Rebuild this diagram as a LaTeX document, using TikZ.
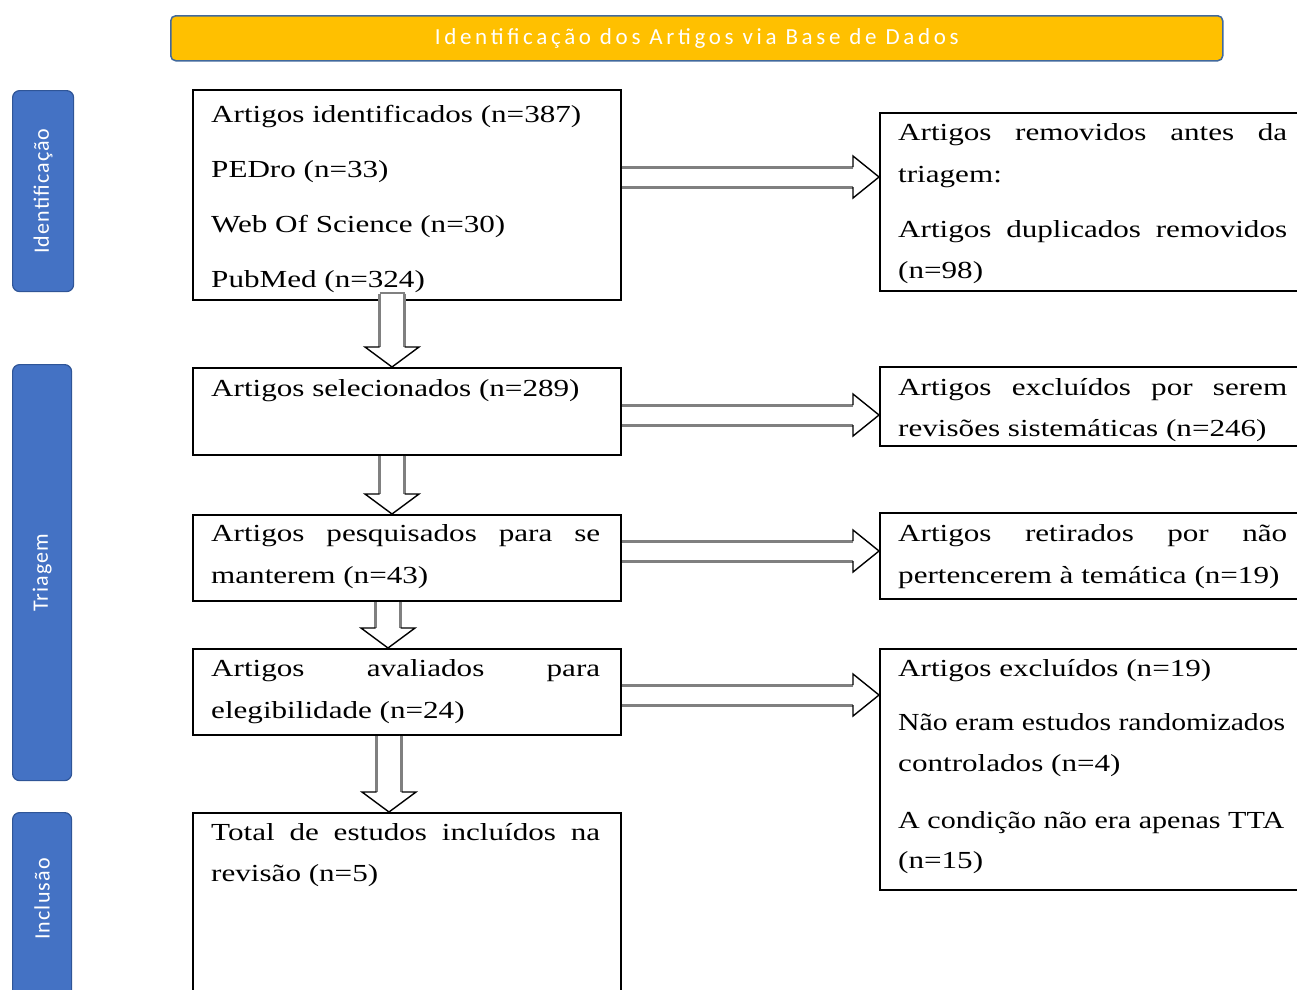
\documentclass[tikz,border=0pt]{standalone}
\usepackage{fontspec}
\usepackage{graphicx}
\setmainfont{Liberation Serif}
\newfontfamily\boxfont[FakeStretch=1.27]{Liberation Serif}
\newfontfamily\lblfont[LetterSpace=5]{Carlito}
\newfontfamily\banfont[LetterSpace=16]{Carlito}
\usetikzlibrary{calc}
\definecolor{phaseblue}{HTML}{4472C4}
\definecolor{phaseborder}{HTML}{2F5597}
\definecolor{banfill}{HTML}{FFC000}
\definecolor{banborder}{HTML}{41699C}
\newcommand\J[1]{\makebox[389pt][s]{#1}}
\newcommand\T[2]{\scalebox{#1}[1]{#2}}
\newcommand\harrow[3]{%
  \coordinate (hs) at (#1.east |- #3);
  \coordinate (he) at (#2.west |- #3);
  \draw[shaft, double distance=17pt] (hs) -- ($(he)+(-26,0)$);
  \draw[head] ($(he)+(-26,-10)$) -- ($(he)+(-26,-21)$) -- (he) -- ($(he)+(-26,21)$) -- ($(he)+(-26,10)$);
}
\newcommand\varrow[3]{%
  \coordinate (vs) at (#3 |- #1.south);
  \coordinate (ve) at (#3 |- #2.north);
  \draw[shaft, double distance=22pt] (vs) -- ($(ve)+(0,-20)$);
  \draw[head] ($(ve)+(-12.5,-20)$) -- ($(ve)+(-27,-20)$) -- (ve) -- ($(ve)+(27,-20)$) -- ($(ve)+(12.5,-20)$);
}
\begin{document}
\begin{tikzpicture}[x=1pt,y=-1pt,
  box/.style={draw=black, line width=1.6pt, fill=white, anchor=north west, inner sep=0pt, rectangle},
  phase/.style={draw=phaseborder, line width=1.2pt, fill=phaseblue, rounded corners=7pt, anchor=north west, inner sep=0pt, rectangle},
  phlabel/.style={rotate=90, text=white, font=\lblfont\fontsize{22}{26}\selectfont, inner sep=0pt},
  banner/.style={draw=banborder, line width=1.5pt, fill=banfill, rounded corners=5pt, anchor=north west, inner sep=0pt, text=white, font=\banfont\fontsize{23}{27}\selectfont},
  txt/.style={anchor=base west, inner sep=0pt, font=\boxfont\fontsize{24.5}{29}\selectfont},
  shaft/.style={draw=black!50, line width=3pt, double=white},
  head/.style={draw=black, line width=1.4pt, fill=white, line join=miter}]
\clip (0,0) rectangle (1297,989);
\useasboundingbox (0,0) rectangle (1297,989);

% banner
\node[banner, minimum width=1052, minimum height=45] (ban) at (170,15) {Identificação dos Artigos via Base de Dados};

% phase bars
\node[phase, minimum width=61, minimum height=201] (ph1) at (12,90) {};
\node[phase, minimum width=59, minimum height=416] (ph2) at (12,364) {};
\node[phase, minimum width=59, minimum height=195] (ph3) at (12,812) {};
\node[phlabel] (l1) at (ph1.center) {Identificação};
\node[phlabel] (l2) at (ph2.center) {Triagem};
\node[phlabel] (l3) at ($(ph3.north)+(0,87)$) {Inclusão};

% left boxes
\node[box, minimum width=428, minimum height=210] (b1) at (192,89) {};
\node[box, minimum width=428, minimum height=87] (b2) at (192,367) {};
\node[box, minimum width=428, minimum height=86] (b3) at (192,514) {};
\node[box, minimum width=428, minimum height=86] (b4) at (192,648) {};
\node[box, minimum width=428, minimum height=200] (b5) at (192,812) {};

% right boxes
\node[box, minimum width=430, minimum height=178] (r1) at (879,112) {};
\node[box, minimum width=430, minimum height=79] (r2) at (879,366) {};
\node[box, minimum width=430, minimum height=86] (r3) at (879,512) {};
\node[box, minimum width=430, minimum height=241] (r4) at (879,648) {};

% arrow coordinates
\coordinate (h1) at (0,177);
\coordinate (h2) at (0,415);
\coordinate (h3) at (0,551);
\coordinate (h4) at (0,695);
\coordinate (v1) at (392,0);
\coordinate (v2) at (392,0);
\coordinate (v3) at (388,0);
\coordinate (v4) at (389,0);

\harrow{b1}{r1}{h1}
\harrow{b2}{r2}{h2}
\harrow{b3}{r3}{h3}
\harrow{b4}{r4}{h4}

\varrow{b1}{b2}{v1}
\draw[draw=black!50, line width=2.5pt] ($(v1 |- b1.south)+(-12.5,-7)$) -- ($(v1 |- b1.south)+(12.5,-7)$);
\draw[shaft, double distance=22pt] ($(v1 |- b1.south)+(0,-7)$) -- (v1 |- b1.south);
\varrow{b2}{b3}{v2}
\varrow{b3}{b4}{v3}
\varrow{b4}{b5}{v4}

% texts left
\node[txt] (t11) at (211,122) {Artigos identificados (n=387)};
\node[txt] (t12) at (211,177) {PEDro (n=33)};
\node[txt] (t13) at (211,232) {Web Of Science (n=30)};
\node[txt] (t14) at (211,287) {PubMed (n=324)};
\node[txt] (t21) at (211,396) {Artigos selecionados (n=289)};
\node[txt] (t31) at (211,541) {\J{Artigos pesquisados para se}};
\node[txt] (t32) at (211,583) {manterem (n=43)};
\node[txt] (t41) at (211,676) {\J{Artigos avaliados para}};
\node[txt] (t42) at (211,718) {elegibilidade (n=24)};
\node[txt] (t51) at (211,840) {\J{Total de estudos incluídos na}};
\node[txt] (t52) at (211,881) {revisão (n=5)};

% texts right
\node[txt] (s11) at (898,140) {\J{Artigos removidos antes da}};
\node[txt] (s12) at (898,182) {triagem:};
\node[txt] (s13) at (898,237) {\J{Artigos duplicados removidos}};
\node[txt] (s14) at (898,278) {(n=98)};
\node[txt] (s21) at (898,395) {\J{Artigos excluídos por serem}};
\node[txt] (s22) at (898,436) {revisões sistemáticas (n=246)};
\node[txt] (s31) at (898,541) {\J{Artigos retirados por não}};
\node[txt] (s32) at (898,583) {pertencerem à temática (n=19)};
\node[txt] (s41) at (898,676) {Artigos excluídos (n=19)};
\node[txt] (s42) at (898,730) {\T{0.955}{Não eram estudos randomizados}};
\node[txt] (s43) at (898,771) {controlados (n=4)};
\node[txt] (s44) at (898,828) {\T{0.967}{A condição não era apenas TTA}};
\node[txt] (s45) at (898,868) {(n=15)};
\end{tikzpicture}
\end{document}
